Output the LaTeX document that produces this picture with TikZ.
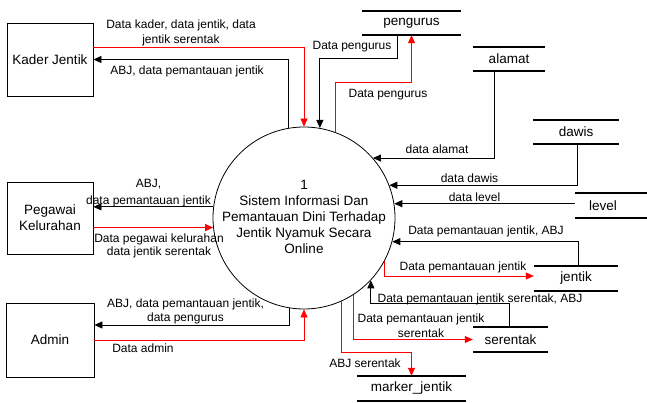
\documentclass[tikz,border=0pt]{standalone}
\usepackage{fontspec}
\setmainfont{Liberation Sans}
\usetikzlibrary{arrows.meta}
\begin{document}
\begin{tikzpicture}[x=1pt,y=-1pt,
  ent/.style={draw, line width=0.8pt, inner sep=0pt, align=center,
    font=\fontsize{13.5}{16}\selectfont},
  proc/.style={circle, draw, line width=0.8pt, minimum size=182pt, inner sep=0pt},
  store/.style={inner sep=0pt, minimum height=24pt, font=\fontsize{13.5}{16}\selectfont},
  storeline/.style={line width=1.8pt},
  lab/.style={inner sep=0pt, align=center, font=\fontsize{12}{14}\selectfont},
  flow/.style={draw=black, line width=0.8pt, -{Triangle[length=8pt,width=7pt]}},
  rflow/.style={flow, draw=red}]

\useasboundingbox[fill=white] (0,0) rectangle (647,403);

% external entities
\node[ent, minimum width=86pt, minimum height=73pt] (kader) at (50,59.5) {Kader Jentik};
\node[ent, minimum width=86pt, minimum height=72pt] (pegawai) at (50,218) {Pegawai\\Kelurahan};
\node[ent, minimum width=88pt, minimum height=74pt] (admin) at (50,340) {Admin};

% process
\node[proc] (c) at (304,218) {};
\node[inner sep=0pt, align=center, font=\fontsize{13.5}{16.2}\selectfont] (ctext) at (304,217)
  {1\\Sistem Informasi Dan\\Pemantauan Dini Terhadap\\Jentik Nyamuk Secara\\Online};

% data stores
\node[store, minimum width=99pt] (pengurus) at (411.5,23) {pengurus};
\node[store, minimum width=72pt] (alamat) at (509,59) {alamat};
\node[store, minimum width=86pt] (dawis) at (576,132) {dawis};
\node[store, minimum width=56pt, minimum height=25pt] (level) at (603,205.5) {level};
\node[store, minimum width=84pt, minimum height=25pt] (jentik) at (576,278.5) {jentik};
\node[store, minimum width=75pt, minimum height=25pt] (serentak) at (510.5,339.5) {serentak};
\node[store, minimum width=109pt, minimum height=25pt] (marker) at (411.5,388.5) {marker\_jentik};

\foreach \s in {pengurus,alamat,dawis,jentik,serentak,marker}
  \draw[storeline] (\s.north west) -- (\s.north east) (\s.south west) -- (\s.south east);
\draw[storeline] (level.north west) -- (level.north west -| 647,0)
                 (level.south west) -- (level.south west -| 647,0);

% flows: Kader Jentik
\draw[rflow] ([yshift=12.5pt]kader.east) -| (c.90.6);
\draw[flow] (c.100.1) |- (kader.east);
\node[lab] (l1) at (181,32.5) {Data kader, data jentik, data\\[1pt]jentik serentak};
\node[lab] (l2) at (187,71) {ABJ, data pemantauan jentik};

% flows: pengurus
\draw[flow] ([xshift=-14.5pt]pengurus.south) -- ++(0,23) -| (c.80.5);
\draw[rflow] (c.70.1) -- (c.70.1 |- 0,82) -| (pengurus.south);
\node[lab] (l3) at (352,47) {Data pengurus};
\node[lab] (l4) at (388,95) {Data pengurus};

% flows: alamat, dawis, level
\draw[flow] ([xshift=-15pt]alamat.south) |- (c.41.2);
\node[lab] (l5) at (437,149) {data alamat};
\draw[flow] ([xshift=1pt]dawis.south) |- (c.21.9);
\node[lab] (l6) at (469.5,178) {data dawis};
\draw[flow] (level.west |- c.9.5) -- (c.9.5);
\node[lab] (l7) at (474.5,197) {data level};

% flows: jentik
\draw[flow] ([xshift=2pt]jentik.north) |- (c.-15.9);
\node[lab] (l8) at (486,231) {Data pemantauan jentik, ABJ};
\draw[rflow] (c.-28.5) |- ([yshift=2.5pt]jentik.west);
\node[lab] (l9) at (463,267) {Data pemantauan jentik};

% flows: serentak
\draw[flow] ([xshift=-1.5pt]serentak.north) -- ++(0,-23) -| (c.-43.5);
\node[lab] (l10) at (480,299) {Data pemantauan jentik serentak, ABJ};
\draw[rflow] (c.-57.4) |- (serentak.west);
\node[lab] (l11) at (421,325.5) {Data pemantauan jentik\\[1pt]serentak};

% flow: marker_jentik
\draw[rflow] (c.-66) -- (c.-66 |- 0,352) -| (marker.north);
\node[lab] (l12) at (365,363) {ABJ serentak};

% flows: Pegawai Kelurahan
\draw[flow] (c.173.7) -- (pegawai.east |- c.173.7);
\node[lab] (l13) at (148.5,193.5) {ABJ,\\[3pt]data pemantauan jentik};
\draw[rflow] (pegawai.east |- c.186.3) -- (c.186.3);
\node[lab] (l14) at (159,245.5) {Data pegawai kelurahan\\[-1pt]data jentik serentak};

% flows: Admin
\draw[flow] (c.-99.5) |- ([yshift=15pt]admin.east);
\node[lab] (l15) at (185.5,311) {ABJ, data pemantauan jentik,\\data pengurus};
\draw[rflow] (admin.east) -| (c.-90.6);
\node[lab] (l16) at (143,348) {Data admin};
\end{tikzpicture}
\end{document}
